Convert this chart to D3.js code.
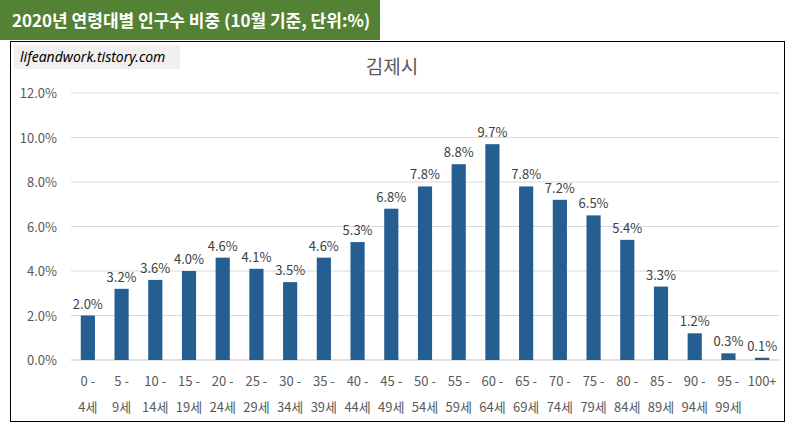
<!DOCTYPE html>
<html><head><meta charset="utf-8">
<script src="https://cdn.jsdelivr.net/npm/d3@7"></script>
<style>body{margin:0;background:#fff;font-family:"Noto Sans CJK KR","Noto Sans",sans-serif}</style>
</head><body><svg id="chart" width="792" height="430"></svg>
<script>
var ageTop = ["0 -","5 -","10 -","15 -","20 -","25 -","30 -","35 -","40 -","45 -","50 -","55 -","60 -","65 -","70 -","75 -","80 -","85 -","90 -","95 -","100+"];
var ageBottom = ["4세","9세","14세","19세","24세","29세","34세","39세","44세","49세","54세","59세","64세","69세","74세","79세","84세","89세","94세","99세",""];
var shares = [2.0,3.2,3.6,4.0,4.6,4.1,3.5,4.6,5.3,6.8,7.8,8.8,9.7,7.8,7.2,6.5,5.4,3.3,1.2,0.3,0.1];
var yTicks = [0,2,4,6,8,10,12];

var svg = d3.select("#chart");
svg.append("rect").attr("x",10.5).attr("y",41.5).attr("width",774).attr("height",380)
  .attr("fill","#fff").attr("stroke","#000");
svg.append("rect").attr("x",0).attr("y",0).attr("width",380).attr("height",40).attr("fill","#548235");
svg.append("text").attr("x",12).attr("y",27).attr("fill","#fff").attr("font-size",17).attr("font-weight","bold")
  .text("2020년 연령대별 인구수 비중 (10월 기준, 단위:%)");
svg.append("rect").attr("x",14).attr("y",45).attr("width",166).attr("height",24).attr("fill","#f0f0f0");
svg.append("text").attr("x",20).attr("y",62).attr("font-size",14).attr("font-style","italic")
  .attr("font-family","Noto Sans, sans-serif").text("lifeandwork.tistory.com");
svg.append("text").attr("x",392).attr("y",74).attr("text-anchor","middle").attr("font-size",19).attr("fill","#595959").text("김제시");

var x = d3.scaleBand().domain(ageTop).range([71,779]).paddingInner(0.58).paddingOuter(0.29);
var y = d3.scaleLinear().domain([0,12]).range([360,93]);

var g = svg.append("g");
g.selectAll("line.grid").data(yTicks).enter().append("line")
  .attr("x1",71).attr("x2",779).attr("y1",d=>y(d)).attr("y2",d=>y(d))
  .attr("stroke",d=>d===0?"#bfbfbf":"#d9d9d9");
g.selectAll("text.yl").data(yTicks).enter().append("text")
  .attr("x",57).attr("y",d=>y(d)+5).attr("text-anchor","end").attr("font-size",13).attr("fill","#595959")
  .text(d=>d.toFixed(1)+"%");

g.selectAll("rect.bar").data(shares).enter().append("rect")
  .attr("x",(d,i)=>x(ageTop[i])).attr("width",x.bandwidth())
  .attr("y",d=>y(d)).attr("height",d=>y(0)-y(d)).attr("fill","#255e91");
g.selectAll("text.val").data(shares).enter().append("text")
  .attr("x",(d,i)=>x(ageTop[i])+x.bandwidth()/2).attr("y",d=>y(d)-7)
  .attr("text-anchor","middle").attr("font-size",13).attr("fill","#404040")
  .text(d=>d.toFixed(1)+"%");
g.selectAll("text.xt").data(ageTop).enter().append("text")
  .attr("x",d=>x(d)+x.bandwidth()/2).attr("y",386).attr("text-anchor","middle")
  .attr("font-size",13).attr("fill","#595959").text(d=>d);
g.selectAll("text.xb").data(ageBottom).enter().append("text")
  .attr("x",(d,i)=>x(ageTop[i])+x.bandwidth()/2).attr("y",412).attr("text-anchor","middle")
  .attr("font-size",13).attr("fill","#595959").text(d=>d);
</script></body></html>
